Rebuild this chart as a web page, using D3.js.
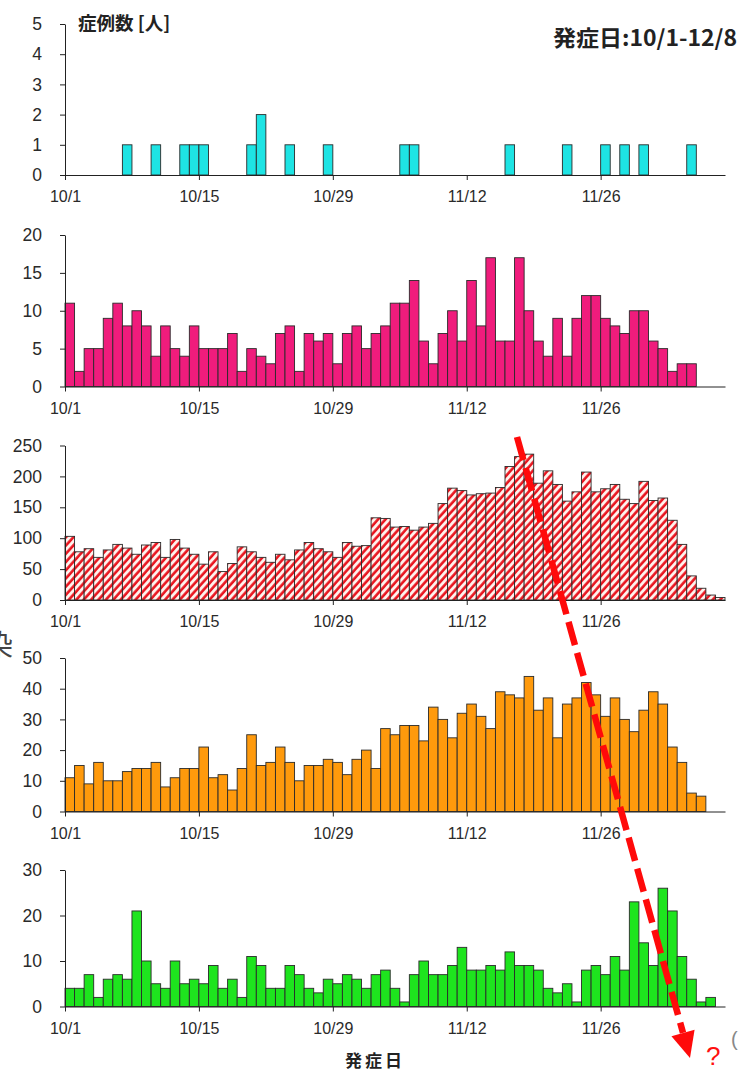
<!DOCTYPE html>
<html><head><meta charset="utf-8">
<script src="https://cdn.jsdelivr.net/npm/d3@7"></script>
<style>html,body{margin:0;padding:0;background:#fff;} svg{display:block;}</style>
</head><body>
<svg id="c" width="739" height="1072"></svg>
<script>
const days = ["10/1","10/2","10/3","10/4","10/5","10/6","10/7","10/8","10/9","10/10",
"10/11","10/12","10/13","10/14","10/15","10/16","10/17","10/18","10/19","10/20",
"10/21","10/22","10/23","10/24","10/25","10/26","10/27","10/28","10/29","10/30","10/31",
"11/1","11/2","11/3","11/4","11/5","11/6","11/7","11/8","11/9","11/10",
"11/11","11/12","11/13","11/14","11/15","11/16","11/17","11/18","11/19","11/20",
"11/21","11/22","11/23","11/24","11/25","11/26","11/27","11/28","11/29","11/30",
"12/1","12/2","12/3","12/4","12/5","12/6","12/7","12/8"];
const tickLabels = ["10/1","10/15","10/29","11/12","11/26"];

const series1 = [0,0,0,0,0,0,1,0,0,1, 0,0,1,1,1,0,0,0,0,1, 2,0,0,1,0,0,0,1,0,0,
  0,0,0,0,0,1,1,0,0,0, 0,0,0,0,0,0,1,0,0,0, 0,0,1,0,0,0,1,0,1,0, 1,0,0,0,0,1,0,0,0];
const series2 = [11,2,5,5,9,11,8,10,8,4, 8,5,4,8,5,5,5,7,2,5, 4,3,7,8,2,7,6,7,3,7,
  8,5,7,8,11,11,14,6,3,7, 10,6,14,8,17,6,6,17,10,6, 4,9,4,9,12,12,9,8,7,10, 10,6,5,2,3,3,0,0,0];
const series3 = [103,78,83,69,81,90,84,74,89,93, 69,98,84,74,58,78,46,59,86,78,
  69,61,74,65,81,93,83,78,69,93, 87,88,133,132,118,119,113,118,124,156,
  181,177,170,172,173,182,216,232,236,189, 209,187,160,175,207,175,180,187,163,156,
  192,161,165,129,90,39,19,8,4];
const series4 = [11,15,9,16,10,10,13,14,14,16, 8,11,14,14,21,11,12,7,14,25,
  15,16,21,16,10,15,15,17,16,12, 17,20,14,27,25,28,28,23,34,30,
  24,32,35,31,27,39,38,37,44,33, 37,24,35,37,42,38,31,37,30,26, 33,39,35,21,16,6,5,0,0];
const series5 = [4,4,7,2,6,7,6,21,10,5, 4,10,5,6,5,9,4,6,2,11, 9,4,4,9,7,4,3,6,5,7,
  6,4,7,8,4,1,7,10,7,7, 9,13,8,8,9,8,12,9,9,8, 4,3,5,1,8,9,7,11,8,23, 14,9,26,21,11,6,1,2,0];

const yTicks1 = [0,1,2,3,4,5];
const yTicks2 = [0,5,10,15,20];
const yTicks3 = [0,50,100,150,200,250];
const yTicks4 = [0,10,20,30,40,50];
const yTicks5 = [0,10,20,30];

const svg = d3.select("#c");
const defs = svg.append("defs");
const pat = defs.append("pattern").attr("id","hatch").attr("patternUnits","userSpaceOnUse")
  .attr("width",5.5).attr("height",6).attr("patternTransform","rotate(42)");
pat.append("rect").attr("width",5.5).attr("height",6).attr("fill","#fff4ef");
pat.append("line").attr("x1",1.5).attr("y1",-1).attr("x2",1.5).attr("y2",7)
  .attr("stroke","#e8141e").attr("stroke-width",2.6);

const panels = [
  {values: series1, ticks: yTicks1, y0: 175, yTop: 24, fill: "#1ee4e4"},
  {values: series2, ticks: yTicks2, y0: 386.5, yTop: 235, fill: "#f01c7c"},
  {values: series3, ticks: yTicks3, y0: 600, yTop: 445.5, fill: "url(#hatch)"},
  {values: series4, ticks: yTicks4, y0: 811.5, yTop: 658, fill: "#ff9a0c"},
  {values: series5, ticks: yTicks5, y0: 1006.5, yTop: 870, fill: "#1ee41e"}
];

const x = d3.scaleBand().domain(days).range([65, 725]).padding(0);
const xi = d3.scaleLinear().domain([0, days.length]).range([65, 725]);
const numFont = "'Liberation Sans Narrow','Arial Narrow','Liberation Sans',Arial,sans-serif";

panels.forEach(p => {
  const y = d3.scaleLinear().domain([0, d3.max(p.ticks)]).range([p.y0, p.yTop]);
  const g = svg.append("g");
  const data = days.map((d, i) => ({d, v: p.values[i]})).filter(o => o.v > 0);
  g.selectAll("rect.bar").data(data).join("rect").attr("class","bar")
    .attr("x", o => x(o.d)).attr("width", x.bandwidth())
    .attr("y", o => y(o.v)).attr("height", o => p.y0 - y(o.v))
    .attr("fill", p.fill).attr("stroke", "#2a2a2a").attr("stroke-width", 0.9);

  const ax = g.append("g").attr("transform", `translate(0,${p.y0})`)
    .call(d3.axisBottom(xi).tickValues(tickLabels.map(t => days.indexOf(t)))
      .tickFormat(i => days[i]).tickSizeInner(5).tickSizeOuter(0));
  ax.selectAll("text").attr("y", 27).attr("dy", null)
    .attr("font-size", 16).attr("font-family", numFont).attr("fill", "#2a2a2a");
  ax.selectAll("path,line").attr("stroke", "#222");

  const ay = g.append("g").attr("transform", "translate(65,0)")
    .call(d3.axisLeft(y).tickValues(p.ticks).tickFormat(d3.format("d"))
      .tickSizeInner(5).tickSizeOuter(0).tickPadding(18));
  ay.selectAll("text").attr("font-size", 17.5).attr("font-family", numFont).attr("fill", "#2a2a2a");
  ay.selectAll("path,line").attr("stroke", "#222");
});

const cjk = "'Noto Sans CJK JP','Noto Sans CJK SC',sans-serif";
svg.append("text").attr("x", 78).attr("y", 30).attr("font-family", cjk).attr("font-weight", "bold")
  .attr("font-size", 18.5).attr("fill", "#222").text("症例数 [人]");
svg.append("text").attr("x", 553).attr("y", 46).attr("font-family", cjk).attr("font-weight", "bold")
  .attr("font-size", 22).attr("textLength", 184).attr("lengthAdjust", "spacingAndGlyphs")
  .attr("fill", "#222").text("発症日:10/1-12/8");
svg.append("text").attr("x", 345).attr("y", 1067).attr("font-family", cjk).attr("font-weight", "bold")
  .attr("font-size", 17).attr("letter-spacing", 3).attr("fill", "#222").text("発症日");
svg.append("text").attr("x", -16).attr("y", 656).attr("font-family", cjk)
  .attr("font-size", 29).attr("fill", "#444").text("染");
svg.append("text").attr("x", 731).attr("y", 1046).attr("font-family", "'Liberation Sans',sans-serif")
  .attr("font-size", 20).attr("fill", "#888").text("(");

// red dashed arrow
const start = [517, 437], tip = [690, 1058];
const dx = tip[0] - start[0], dy = tip[1] - start[1], L = Math.hypot(dx, dy);
const ux = dx / L, uy = dy / L, nx = uy, ny = -ux;
const base = [tip[0] - 26 * ux, tip[1] - 26 * uy];
svg.append("line").attr("x1", start[0]).attr("y1", start[1]).attr("x2", base[0]).attr("y2", base[1])
  .attr("stroke", "#ff0a0a").attr("stroke-width", 6.5).attr("stroke-dasharray", "24,8");
svg.append("polygon").attr("points", [
  [base[0] + 12 * nx, base[1] + 12 * ny], [base[0] - 12 * nx, base[1] - 12 * ny], tip
].map(p => p.join(",")).join(" ")).attr("fill", "#ff0a0a");
svg.append("text").attr("x", 706).attr("y", 1065).attr("font-family", "'Liberation Sans',sans-serif")
  .attr("font-size", 26).attr("fill", "#ff1010").text("?");
</script>
</body></html>
